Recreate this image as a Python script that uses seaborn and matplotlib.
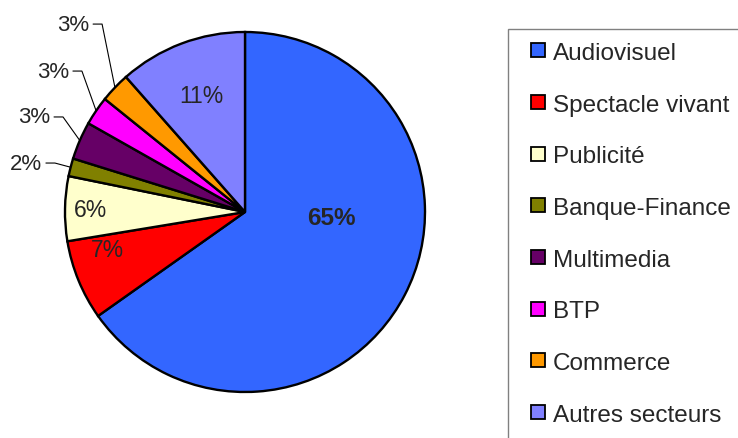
import numpy as np
import matplotlib
matplotlib.use("Agg")
import matplotlib.pyplot as plt
import seaborn as sns
from matplotlib.lines import Line2D
from matplotlib.patches import Rectangle

# Sector shares, printed labels and colours
sectors = ["Audiovisuel", "Spectacle vivant", "Publicité", "Banque-Finance",
           "Multimedia", "BTP", "Commerce", "Autres secteurs"]
shares = [65.2, 7.2, 5.8, 1.6, 3.4, 2.6, 2.7, 11.5]
pct_labels = ["65%", "7%", "6%", "2%", "3%", "3%", "3%", "11%"]
colors = ["#3366FF", "#FF0000", "#FFFFCC", "#808000",
          "#660066", "#FF00FF", "#FF9900", "#8080FF"]

sns.set_theme(style="white")
plt.rcParams["font.family"] = ["Liberation Sans", "DejaVu Sans"]

fig = plt.figure(figsize=(7.38, 4.39), dpi=100)
ax = fig.add_axes([65 / 738, 46 / 439, 360 / 738, 360 / 439])

wedges, _ = ax.pie(shares, colors=colors, startangle=90, counterclock=False,
                   wedgeprops=dict(edgecolor="black", linewidth=1.7))
ax.set_xlim(-1, 1)
ax.set_ylim(-1, 1)

# labels inside the slices: (radius, angle shift from slice middle)
inside = {0: (0.48, 23.5), 1: (0.79, -7), 2: (0.86, 0), 7: (0.69, 0)}
for i, (r, shift) in inside.items():
    w = wedges[i]
    ang = np.deg2rad((w.theta1 + w.theta2) / 2 + shift)
    ax.text(r * np.cos(ang), r * np.sin(ang), pct_labels[i],
            ha="center", va="center",
            fontsize=17.5 if i == 0 else 16.5,
            fontweight="bold" if i == 0 else "normal")

# small slices: label outside with a leader line
knees = {3: (-1.056, 0.272), 4: (-1.011, 0.528), 5: (-0.906, 0.783), 6: (-0.794, 1.044)}
for i, (kx, ky) in knees.items():
    w = wedges[i]
    ang = np.deg2rad((w.theta1 + w.theta2) / 2)
    ex, ey = np.cos(ang), np.sin(ang)
    ax.plot([ex, kx, kx - 0.05], [ey, ky, ky], color="black", lw=0.8, clip_on=False)
    ax.text(kx - 0.07, ky, pct_labels[i], ha="right", va="center", fontsize=16)

# legend box runs off the right and bottom edge of the image
fig.patches.append(Rectangle((508 / 738, -0.05), 0.4, 1 - 30 / 439 + 0.05,
                             transform=fig.transFigure, facecolor="white",
                             edgecolor="#808080", linewidth=1.0, zorder=0))

handles = [Line2D([], [], linestyle="none", marker="s", markersize=10,
                  markerfacecolor=c, markeredgecolor="black", markeredgewidth=1.3)
           for c in colors]
leg = fig.legend(handles, sectors, loc="upper left",
                 bbox_to_anchor=(508 / 738, 1 - 32 / 439), borderaxespad=0,
                 fontsize=17.5, frameon=False,
                 borderpad=0.45, handlelength=1.6, handletextpad=-0.2,
                 labelspacing=1.22)

fig.savefig("out.png", dpi=100)
